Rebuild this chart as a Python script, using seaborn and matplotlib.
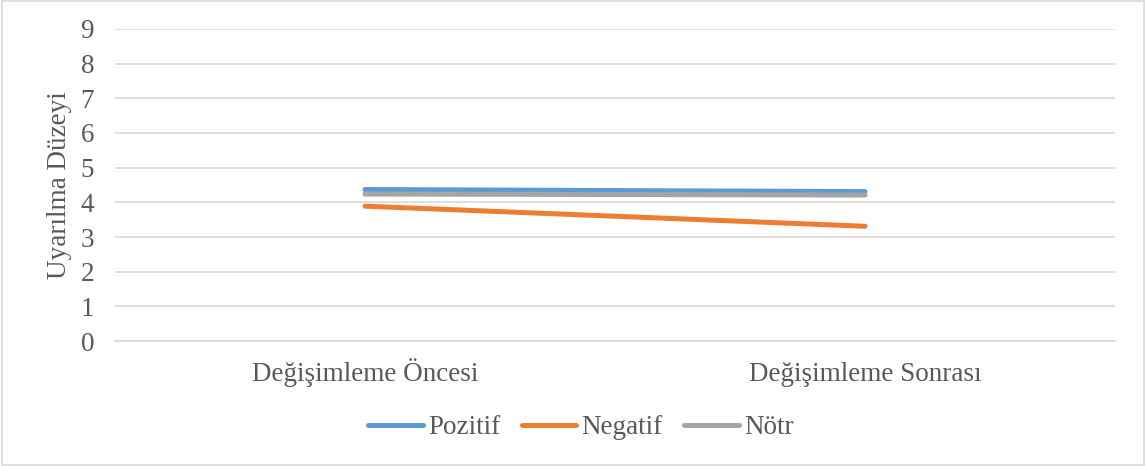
import pandas as pd
import matplotlib
matplotlib.use("Agg")
import matplotlib.pyplot as plt
import seaborn as sns

categories = ["Değişimleme Öncesi", "Değişimleme Sonrası"]
pozitif = [4.37, 4.31]
negatif = [3.89, 3.31]
notr = [4.24, 4.21]
series_names = ["Pozitif", "Negatif", "Nötr"]
colors = ["#5B9BD5", "#ED7D31", "#A5A5A5"]

rows = []
for name, vals in zip(series_names, [pozitif, negatif, notr]):
    for i, v in enumerate(vals):
        rows.append({"x": i, "value": v, "seri": name})
df = pd.DataFrame(rows)

sns.set_theme(style="white")
plt.rcParams['font.family'] = ['Liberation Serif', 'DejaVu Serif']

FS = 19.5
LW = 3.6

fig = plt.figure(figsize=(11.46, 4.66), dpi=100)
ax = fig.add_axes([0.1003, 0.268, 0.8727, 0.670])

sns.lineplot(data=df, x="x", y="value", hue="seri", palette=colors,
             hue_order=series_names, linewidth=LW, ax=ax, legend=False,
             solid_capstyle="round")

ax.set_xlim(-0.5, 1.5)
ax.set_ylim(0, 9)
ax.set_yticks(range(0, 10))
ax.set_xticks([0, 1])
ax.set_xticklabels(categories, va="baseline")
ax.yaxis.grid(True, color="#D9D9D9", linewidth=1.2)
ax.set_axisbelow(True)
for s in ["top", "right", "left"]:
    ax.spines[s].set_visible(False)
ax.spines["bottom"].set_color("#D9D9D9")
ax.spines["bottom"].set_linewidth(1.2)
ax.tick_params(axis="both", length=0, labelsize=FS, colors="#595959")
ax.tick_params(axis="y", pad=15)
ax.tick_params(axis="x", pad=29)
ax.set_xlabel("")
ax.set_ylabel("Uyarılma Düzeyi", fontsize=FS, color="#595959")
ax.yaxis.set_label_coords(-0.043, 0.5)

handles = [plt.Line2D([0], [0], color=c, linewidth=LW, solid_capstyle="round") for c in colors]
fig.legend(handles, series_names, loc="center", bbox_to_anchor=(0.507, 0.082), ncol=3,
           frameon=False, fontsize=FS, handlelength=2.0, handletextpad=0.2,
           columnspacing=0.8, labelcolor="#595959")

border = plt.Rectangle((0.002, 0.003), 0.996, 0.994, transform=fig.transFigure,
                       fill=False, edgecolor="#D9D9D9", linewidth=1.2)
fig.patches.append(border)

fig.savefig("out.png", dpi=100, facecolor="white")
